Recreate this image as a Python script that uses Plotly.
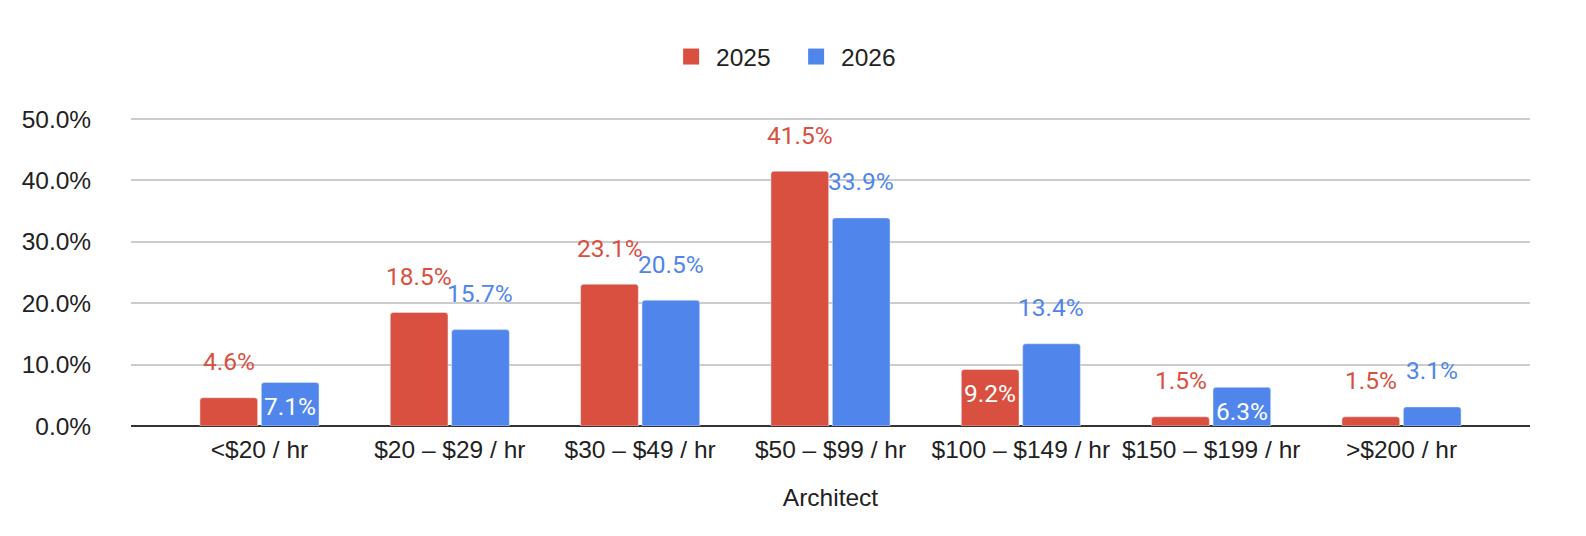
import plotly.graph_objects as go

categories = ["<$20 / hr", "$20 – $29 / hr", "$30 – $49 / hr", "$50 – $99 / hr",
              "$100 – $149 / hr", "$150 – $199 / hr", ">$200 / hr"]
values_2025 = [4.6, 18.5, 23.1, 41.5, 9.2, 1.5, 1.5]
values_2026 = [7.1, 15.7, 20.5, 33.9, 13.4, 6.3, 3.1]
# label placement per point as in the reference: "out" above bar, "in" inside top
place_2025 = ["out", "out", "out", "out", "in", "out", "out"]
place_2026 = ["in", "out", "out", "out", "out", "in", "out"]
y_ticks = [0, 10, 20, 30, 40, 50]

RED = "#D95040"
BLUE = "#5086EC"
FONT = "Liberation Sans, Arial, sans-serif"
LABEL_FONT = "Roboto, sans-serif"
FS = 24.5

fig = go.Figure()
fig.add_trace(go.Bar(name="2025", x=categories, y=values_2025, showlegend=False,
                     marker=dict(color=RED, cornerradius=3)))
fig.add_trace(go.Bar(name="2026", x=categories, y=values_2026, showlegend=False,
                     marker=dict(color=BLUE, cornerradius=3)))
# legend entries with larger square swatches
for name, color in [("2025", RED), ("2026", BLUE)]:
    fig.add_trace(go.Scatter(name=name, x=[None], y=[None], mode="markers",
                             marker=dict(symbol="square", size=22, color=color),
                             showlegend=True))

annotations = []
for vals, places, color, xs in [(values_2025, place_2025, RED, -30.5),
                                (values_2026, place_2026, BLUE, 30.5)]:
    for cat, v, p in zip(categories, vals, places):
        annotations.append(dict(
            x=cat, y=v, xref="x", yref="y", text=f"{v:.1f}%", showarrow=False,
            xshift=xs, yshift=36 if p == "out" else -24,
            font=dict(family=LABEL_FONT, size=24.5, color=color if p == "out" else "white"),
        ))

fig.update_layout(
    width=1570, height=520,
    margin=dict(l=123.3, r=47.7, t=108.1, b=101.7, autoexpand=False),
    paper_bgcolor="white", plot_bgcolor="white",
    barmode="group", bargap=0.355, bargroupgap=0.06,
    font=dict(family=FONT, size=FS, color="#222"),
    showlegend=True,
    legend=dict(orientation="h", x=0.3825, xanchor="left", yref="container",
                y=0.9065, yanchor="middle",
                font=dict(family=FONT, size=FS, color="#222"), itemwidth=40,
                entrywidth=70, traceorder="normal"),
    annotations=annotations,
    xaxis=dict(range=[-0.675, 6.675], showgrid=False, showline=False,
               ticks="outside", ticklen=2, tickcolor="rgba(0,0,0,0)",
               tickfont=dict(family=FONT, size=FS, color="#222"),
               title=dict(text="Architect", standoff=26,
                          font=dict(family=FONT, size=FS, color="#222"))),
    yaxis=dict(range=[0, 50.5], tickmode="array", tickvals=y_ticks,
               ticktext=[f"{t:.1f}%" for t in y_ticks],
               showgrid=True, gridcolor="#CCCCCC", gridwidth=1.5,
               zeroline=True, zerolinecolor="#333333", zerolinewidth=2,
               showline=False, ticks="outside", ticklen=34, tickcolor="rgba(0,0,0,0)",
               tickfont=dict(family=FONT, size=FS, color="#222")),
)

fig.write_html("out.html")
